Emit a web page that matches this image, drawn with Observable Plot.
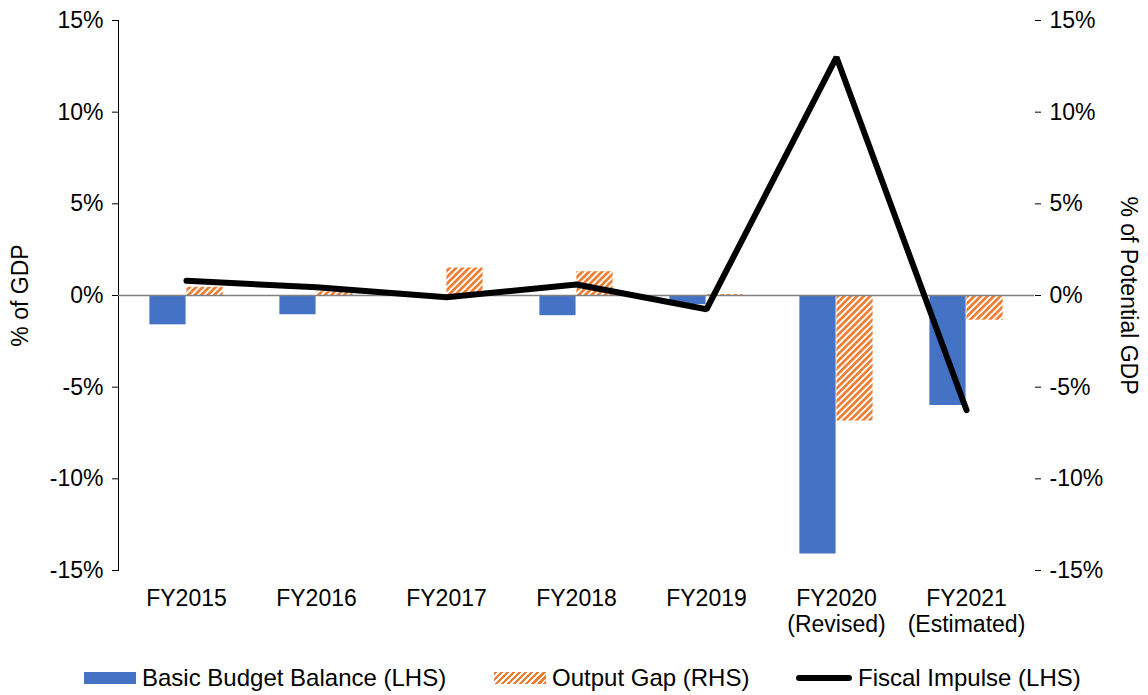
<!DOCTYPE html>
<html>
<head>
<meta charset="utf-8">
<script src="https://cdn.jsdelivr.net/npm/d3@7"></script>
<script src="https://cdn.jsdelivr.net/npm/@observablehq/plot@0.6"></script>
<style>
  html, body { margin: 0; padding: 0; background: #fff; }
  body { width: 1148px; height: 695px; overflow: hidden; font-family: "Liberation Sans", Arial, sans-serif; }
  #legend { position: relative; height: 45px; font-size: 24px; color: #000; }
  .item { position: absolute; top: 15px; display: flex; align-items: center; height: 26px; line-height: 26px; white-space: nowrap; }
  .sw { display: inline-block; margin-right: 6px; }
</style>
</head>
<body>
<div id="chart"></div>
<div id="legend">
  <div class="item" style="left:84px"><span class="sw" style="width:52px;height:12px;background:#4472C4"></span>Basic Budget Balance (LHS)</div>
  <div class="item" style="left:494px"><span class="sw" style="width:52px;height:12px;background:repeating-linear-gradient(135deg,#ED7D31 0 2.4px,#fff 2.4px 4.3px)"></span>Output Gap (RHS)</div>
  <div class="item" style="left:796px"><span class="sw" style="width:56px;height:6px;background:#000;border-radius:3px"></span>Fiscal Impulse (LHS)</div>
</div>
<script>
const categories = ["FY2015", "FY2016", "FY2017", "FY2018", "FY2019", "FY2020\n(Revised)", "FY2021\n(Estimated)"];
const basicBudgetBalance = [-1.6, -1.05, 0, -1.1, -0.5, -14.1, -6.0];
const outputGap = [0.45, 0.2, 1.5, 1.3, 0.05, -6.85, -1.35];
const fiscalImpulse = [0.8, 0.45, -0.1, 0.6, -0.75, 13.0, -6.25];
const yTicks = [-15, -10, -5, 0, 5, 10, 15];

const rows = categories.map((c, i) => ({c, bb: basicBudgetBalance[i], og: outputGap[i], fi: fiscalImpulse[i]}));

const W = 1148, H = 650, mL = 118, mR = 114;
const band = (W - mL - mR) / categories.length;
const bw = band * 0.283;
const half = band / 2;

const chart = Plot.plot({
  width: W, height: H,
  marginLeft: mL, marginRight: mR, marginTop: 20, marginBottom: 80,
  style: {fontFamily: "'Liberation Sans', Arial, sans-serif", fontSize: "23px", color: "#000", background: "#fff", overflow: "visible"},
  x: {domain: categories, padding: 0, label: null},
  y: {domain: [-15, 15], ticks: yTicks, tickFormat: d => d + "%", label: null, axis: "both", line: true, tickSize: 6, tickPadding: 9},
  marks: [
    Plot.axisX({tickSize: 0, tickPadding: 18, fontSize: 23, lineHeight: 1.1, label: null}),
    Plot.barY(rows, {x: "c", y: "bb", fill: "#4472C4", insetLeft: half - bw, insetRight: half}),
    Plot.barY(rows, {x: "c", y: "og", fill: "url(#hatch)", insetLeft: half, insetRight: half - bw}),
    Plot.ruleY([0], {stroke: "#808080", strokeWidth: 1.3}),
    Plot.line(rows, {x: "c", y: "fi", stroke: "#000", strokeWidth: 6, strokeLinejoin: "miter", strokeLinecap: "round"}),
    Plot.text(["% of GDP"], {frameAnchor: "left", textAnchor: "middle", rotate: -90, dx: -98, fontSize: 23}),
    Plot.text(["% of Potential GDP"], {frameAnchor: "right", textAnchor: "middle", rotate: 90, dx: 94, fontSize: 23})
  ]
});

const ns = "http://www.w3.org/2000/svg";
const defs = document.createElementNS(ns, "defs");
defs.innerHTML = '<pattern id="hatch" patternUnits="userSpaceOnUse" width="4.6" height="4.6" patternTransform="rotate(45)"><rect width="4.6" height="4.6" fill="#fff"/><rect width="2.7" height="4.6" fill="#ED7D31"/></pattern>';
chart.insertBefore(defs, chart.firstChild);
document.getElementById("chart").appendChild(chart);
</script>
</body>
</html>
